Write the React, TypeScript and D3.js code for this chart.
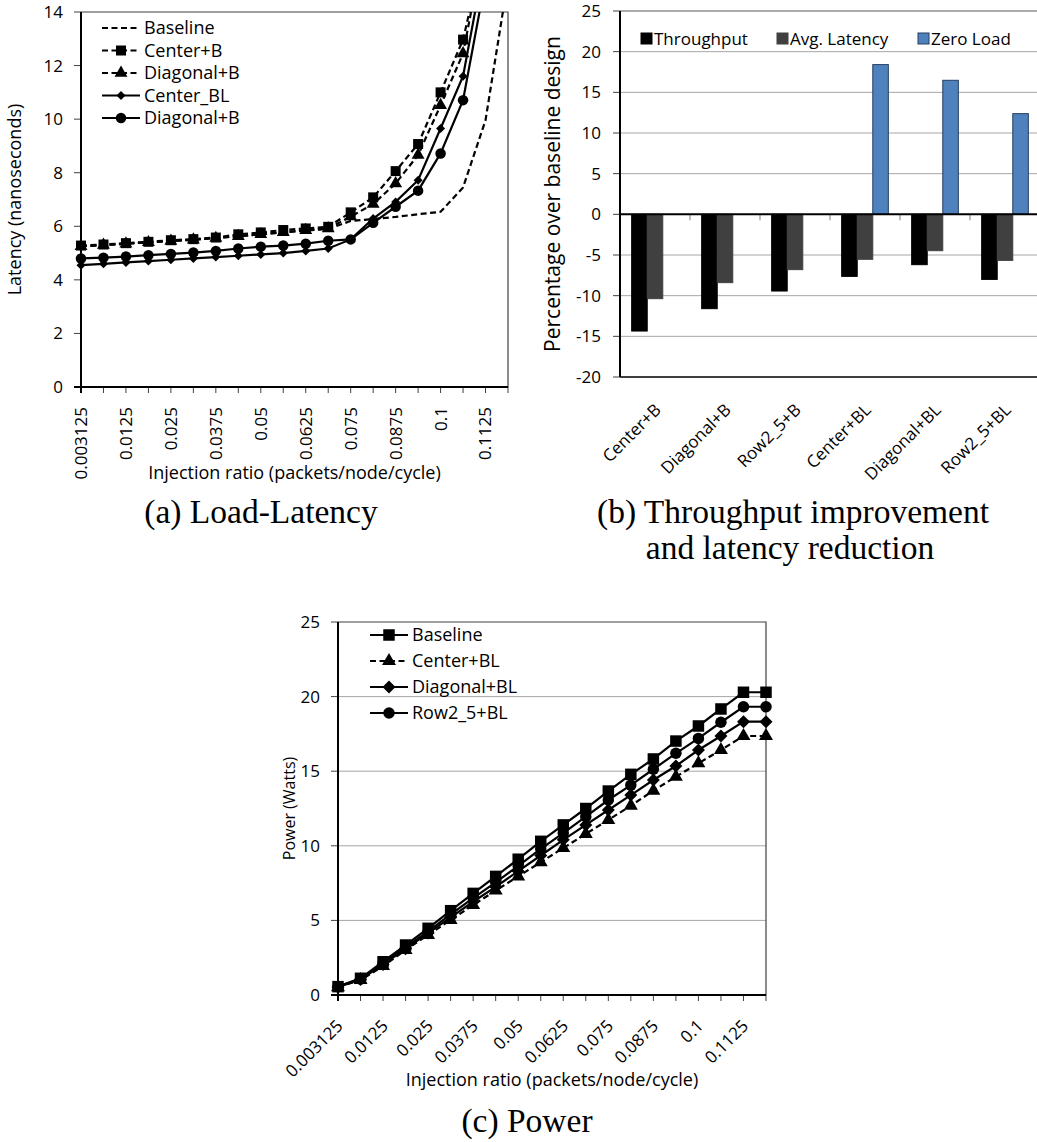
import React, { useEffect, useRef } from 'react';
import * as d3 from 'd3';

// x categories shared by the two line charts (every other one is labelled)
const injectionRatio = [
  '0.003125', '0.00625', '0.0125', '0.01875', '0.025', '0.03125', '0.0375', '0.04375', '0.05', '0.05625',
  '0.0625', '0.06875', '0.075', '0.08125', '0.0875', '0.09375', '0.1', '0.10625', '0.1125', '0.11875',
];

// (a) latency in ns
const latencyBaseline = [5.25, 5.3, 5.35, 5.4, 5.45, 5.5, 5.56, 5.63, 5.7, 5.77, 5.84, 5.9, 6.2, 6.27, 6.35, 6.45, 6.54, 7.45, 9.96, 15.2];
const latencyCenterB = [5.28, 5.32, 5.37, 5.42, 5.48, 5.52, 5.58, 5.7, 5.77, 5.86, 5.92, 5.98, 6.52, 7.08, 8.06, 9.07, 11.0, 12.97, 16.6, 21];
const latencyDiagonalB = [5.25, 5.3, 5.35, 5.4, 5.45, 5.5, 5.56, 5.63, 5.7, 5.78, 5.85, 5.92, 6.36, 6.83, 7.6, 8.66, 10.52, 12.45, 16.8, 21];
const latencyCenterBL = [4.55, 4.6, 4.65, 4.7, 4.75, 4.8, 4.85, 4.9, 4.95, 5.0, 5.08, 5.17, 5.51, 6.29, 6.91, 7.72, 9.65, 11.6, 16.1, 20];
const latencyDiagonalBL = [4.8, 4.83, 4.87, 4.92, 4.97, 5.02, 5.08, 5.17, 5.24, 5.28, 5.35, 5.46, 5.51, 6.13, 6.73, 7.33, 8.72, 10.71, 15.2, 19];
const latencyTicks = [0, 2, 4, 6, 8, 10, 12, 14];

// (b) percentage over baseline design
const designs = ['Center+B', 'Diagonal+B', 'Row2_5+B', 'Center+BL', 'Diagonal+BL', 'Row2_5+BL'];
const metrics = ['Throughput', 'Avg. Latency', 'Zero Load'];
const throughputGain = [-14.35, -11.6, -9.43, -7.63, -6.19, -8.0];
const avgLatencyGain = [-10.37, -8.4, -6.8, -5.53, -4.47, -5.66];
const zeroLoadGain = [0, 0, 0, 18.41, 16.48, 12.38];
const percentTicks = [-20, -15, -10, -5, 0, 5, 10, 15, 20, 25];

// (c) power in watts
const powerBaseline = [0.56, 1.12, 2.23, 3.35, 4.47, 5.65, 6.81, 7.95, 9.1, 10.3, 11.4, 12.5, 13.67, 14.79, 15.82, 17.02, 18.03, 19.17, 20.29, 20.29];
const powerCenterBL = [0.53, 1.0, 1.94, 3.02, 4.02, 5.03, 6.03, 7.0, 7.95, 8.9, 9.85, 10.8, 11.73, 12.69, 13.7, 14.63, 15.53, 16.42, 17.36, 17.36];
const powerDiagonalBL = [0.54, 1.04, 2.05, 3.1, 4.15, 5.2, 6.25, 7.25, 8.3, 9.35, 10.4, 11.4, 12.4, 13.4, 14.41, 15.35, 16.42, 17.36, 18.32, 18.32];
const powerRow25BL = [0.55, 1.08, 2.12, 3.2, 4.27, 5.4, 6.5, 7.55, 8.65, 9.8, 10.85, 11.95, 13.07, 14.07, 15.13, 16.2, 17.2, 18.28, 19.32, 19.32];
const powerTicks = [0, 5, 10, 15, 20, 25];

const FONT = "'Open Sans', sans-serif";
const SERIF = "'Liberation Serif', 'Times New Roman', serif";
const TICK_SIZE = 17;
const TEXT_SIZE = 18;

function markerPath(shape, size) {
  if (shape === 'square') return d3.symbol(d3.symbolSquare, size * size)();
  if (shape === 'circle') return d3.symbol(d3.symbolCircle, Math.PI * (size / 2) ** 2)();
  if (shape === 'triangle') return d3.symbol(d3.symbolTriangle, size * size * 0.5)();
  if (shape === 'diamond') {
    const h = size / 2;
    return `M0,${-h}L${h},0L0,${h}L${-h},0Z`;
  }
  return null;
}

function linePanel(svg, cfg) {
  const { id, left, right, top, bottom, yMax, yTicks, grid, series } = cfg;
  const x = d3.scalePoint().domain(injectionRatio).range([left, right]);
  const y = d3.scaleLinear().domain([0, yMax]).range([bottom, top]);
  const g = svg.append('g');

  svg.select('defs').append('clipPath').attr('id', 'clip-' + id)
    .append('rect').attr('x', left - 20).attr('y', top).attr('width', right - left + 40).attr('height', bottom - top + 20);

  if (grid) {
    g.selectAll('.grid').data(yTicks.filter((t) => t > 0 && t < yMax)).enter().append('line')
      .attr('x1', left).attr('x2', right).attr('y1', (d) => y(d)).attr('y2', (d) => y(d))
      .attr('stroke', '#a6a6a6').attr('stroke-width', 1);
  }
  // plot border top / right
  g.append('path').attr('d', `M${left},${y(yMax)}H${right}V${bottom}`)
    .attr('fill', 'none').attr('stroke', '#404040').attr('stroke-width', 1.2);

  // y axis
  g.selectAll('.ytick').data(yTicks).enter().append('line')
    .attr('x1', left - 7).attr('x2', left).attr('y1', (d) => y(d)).attr('y2', (d) => y(d))
    .attr('stroke', '#404040');
  g.selectAll('.ylab').data(yTicks).enter().append('text')
    .attr('x', left - 18).attr('y', (d) => y(d)).attr('dy', '0.35em')
    .attr('text-anchor', 'end').attr('font-family', FONT).attr('font-size', TICK_SIZE).text((d) => d);

  // x axis
  g.selectAll('.xtick').data(injectionRatio).enter().append('line')
    .attr('x1', (d) => x(d)).attr('x2', (d) => x(d)).attr('y1', bottom).attr('y2', bottom + 6)
    .attr('stroke', '#404040');
  const shown = injectionRatio.filter((d, i) => i % 2 === 0);
  g.selectAll('.xlab').data(shown).enter().append('text')
    .attr('transform', (d) => cfg.xLabelTransform(x(d), bottom))
    .attr('dy', cfg.xLabelDy).attr('text-anchor', 'end')
    .attr('font-family', FONT).attr('font-size', TICK_SIZE).text((d) => d);

  g.append('line').attr('x1', left).attr('x2', left).attr('y1', top).attr('y2', bottom + 6)
    .attr('stroke', '#000').attr('stroke-width', 2);
  g.append('line').attr('x1', left - 7).attr('x2', right).attr('y1', bottom).attr('y2', bottom)
    .attr('stroke', '#000').attr('stroke-width', 2);

  // titles
  g.append('text').attr('x', (left + right) / 2).attr('y', cfg.xTitleY).attr('text-anchor', 'middle')
    .attr('font-family', FONT).attr('font-size', TEXT_SIZE).text('Injection ratio (packets/node/cycle)');
  g.append('text').attr('transform', `translate(${cfg.yTitleX},${(top + bottom) / 2}) rotate(-90)`)
    .attr('text-anchor', 'middle').attr('font-family', FONT).attr('font-size', cfg.yTitleSize).text(cfg.yTitle);

  // series
  const plot = g.append('g').attr('clip-path', `url(#clip-${id})`);
  const line = d3.line().x((d, i) => x(injectionRatio[i])).y((d) => y(d));
  series.forEach((s) => {
    plot.append('path').datum(s.values).attr('d', line).attr('fill', 'none')
      .attr('stroke', '#000').attr('stroke-width', 2.2)
      .attr('stroke-dasharray', s.dashed ? '6,3.5' : null);
    const p = markerPath(s.shape, s.size);
    if (p) {
      plot.selectAll(null).data(s.values).enter().append('path')
        .attr('d', p).attr('transform', (d, i) => `translate(${x(injectionRatio[i])},${y(d)})`)
        .attr('fill', '#000');
    }
  });

  // legend
  const lg = g.append('g');
  series.forEach((s, i) => {
    const ly = cfg.legend.y + i * cfg.legend.step;
    lg.append('line').attr('x1', cfg.legend.x).attr('x2', cfg.legend.x + 38).attr('y1', ly).attr('y2', ly)
      .attr('stroke', '#000').attr('stroke-width', 2.2).attr('stroke-dasharray', s.dashed ? '6,3.5' : null);
    const p = markerPath(s.shape, s.size);
    if (p) lg.append('path').attr('d', p).attr('transform', `translate(${cfg.legend.x + 19},${ly})`);
    lg.append('text').attr('x', cfg.legend.x + 42).attr('y', ly).attr('dy', '0.35em')
      .attr('font-family', FONT).attr('font-size', TEXT_SIZE).text(s.name);
  });
}

function barPanel(svg) {
  const left = 620;
  const right = 1040;
  const x0 = d3.scaleBand().domain(designs).range([left, right]).paddingInner(1 / 3).paddingOuter(1 / 6);
  const x1 = d3.scaleBand().domain(metrics).range([0, x0.bandwidth()]);
  const y = d3.scaleLinear().domain([-20, 25]).range([377, 11]);
  const colors = d3.scaleOrdinal().domain(metrics).range(['#000000', '#404040', '#4f81bd']);
  const borders = d3.scaleOrdinal().domain(metrics).range(['#000000', '#404040', '#243f60']);
  const g = svg.append('g');

  g.selectAll('.grid').data(percentTicks.filter((t) => t !== 0 && t !== -20)).enter().append('line')
    .attr('x1', left).attr('x2', right).attr('y1', (d) => y(d)).attr('y2', (d) => y(d))
    .attr('stroke', (d) => (d === 25 ? '#595959' : '#a6a6a6')).attr('stroke-width', (d) => (d === 25 ? 1.2 : 1));
  g.append('line').attr('x1', left).attr('x2', right).attr('y1', y(-20)).attr('y2', y(-20))
    .attr('stroke', '#000').attr('stroke-width', 1.3);

  g.selectAll('.ytick').data(percentTicks).enter().append('line')
    .attr('x1', left - 7).attr('x2', left).attr('y1', (d) => y(d)).attr('y2', (d) => y(d)).attr('stroke', '#404040');
  g.selectAll('.ylab').data(percentTicks).enter().append('text')
    .attr('x', left - 19).attr('y', (d) => y(d)).attr('dy', '0.35em').attr('text-anchor', 'end')
    .attr('font-family', FONT).attr('font-size', TICK_SIZE).text((d) => d);

  const rows = designs.map((d, i) => ({
    design: d,
    values: [throughputGain[i], avgLatencyGain[i], zeroLoadGain[i]],
  }));
  const grp = g.selectAll('.grp').data(rows).enter().append('g')
    .attr('transform', (d) => `translate(${x0(d.design)},0)`);
  grp.selectAll('rect').data((d) => d.values.map((v, k) => ({ key: metrics[k], v }))).enter()
    .filter((d) => d.v !== 0)
    .append('rect')
    .attr('x', (d) => x1(d.key)).attr('width', x1.bandwidth())
    .attr('y', (d) => y(Math.max(0, d.v))).attr('height', (d) => Math.abs(y(d.v) - y(0)))
    .attr('fill', (d) => colors(d.key)).attr('stroke', (d) => borders(d.key)).attr('stroke-width', 1);

  // zero axis with category ticks
  const step = x0.step();
  g.selectAll('.xtick').data(d3.range(1, designs.length)).enter().append('line')
    .attr('x1', (d) => left + d * step).attr('x2', (d) => left + d * step)
    .attr('y1', y(0)).attr('y2', y(0) + 6).attr('stroke', '#7f7f7f');
  g.append('line').attr('x1', left).attr('x2', right).attr('y1', y(0)).attr('y2', y(0))
    .attr('stroke', '#000').attr('stroke-width', 2);
  g.append('line').attr('x1', left).attr('x2', left).attr('y1', y(25)).attr('y2', y(-20))
    .attr('stroke', '#000').attr('stroke-width', 2);

  g.selectAll('.xlab').data(designs).enter().append('text')
    .attr('transform', (d) => `translate(${x0(d) + x0.bandwidth() / 2 + 7},${y(-20) + 34}) rotate(-45)`)
    .attr('text-anchor', 'end').attr('font-family', FONT).attr('font-size', TICK_SIZE).text((d) => d);

  g.append('text').attr('transform', `translate(560,${(y(25) + y(-20)) / 2}) rotate(-90)`)
    .attr('text-anchor', 'middle').attr('font-family', FONT).attr('font-size', 21)
    .text('Percentage over baseline design');

  // legend
  const legendX = [641, 777, 918];
  metrics.forEach((m, i) => {
    g.append('rect').attr('x', legendX[i]).attr('y', 33).attr('width', 11).attr('height', 11)
      .attr('fill', colors(m)).attr('stroke', borders(m));
    g.append('text').attr('x', legendX[i] + 13).attr('y', 39).attr('dy', '0.35em')
      .attr('font-family', FONT).attr('font-size', 17).text(m);
  });
}

export default function App() {
  const ref = useRef(null);

  useEffect(() => {
    const svg = d3.select(ref.current);
    svg.selectAll('*').remove();
    svg.append('defs');

    linePanel(svg, {
      id: 'a', left: 81, right: 508, top: 12, bottom: 387, yMax: 14, yTicks: latencyTicks, grid: false,
      series: [
        { name: 'Baseline', values: latencyBaseline, dashed: true, shape: 'none', size: 0 },
        { name: 'Center+B', values: latencyCenterB, dashed: true, shape: 'square', size: 10 },
        { name: 'Diagonal+B', values: latencyDiagonalB, dashed: true, shape: 'triangle', size: 12 },
        { name: 'Center_BL', values: latencyCenterBL, dashed: false, shape: 'diamond', size: 9 },
        { name: 'Diagonal+B', values: latencyDiagonalBL, dashed: false, shape: 'circle', size: 10.5 },
      ],
      legend: { x: 102, y: 28, step: 22.5 },
      xLabelTransform: (px, b) => `translate(${px},${b + 20}) rotate(-90)`,
      xLabelDy: '0.35em',
      xTitleY: 479,
      yTitle: 'Latency (nanoseconds)', yTitleX: 21, yTitleSize: 18,
    });

    barPanel(svg);

    linePanel(svg, {
      id: 'c', left: 338, right: 766, top: 622, bottom: 995, yMax: 25, yTicks: powerTicks, grid: true,
      series: [
        { name: 'Baseline', values: powerBaseline, dashed: false, shape: 'square', size: 11.5 },
        { name: 'Center+BL', values: powerCenterBL, dashed: true, shape: 'triangle', size: 13 },
        { name: 'Diagonal+BL', values: powerDiagonalBL, dashed: false, shape: 'diamond', size: 13 },
        { name: 'Row2_5+BL', values: powerRow25BL, dashed: false, shape: 'circle', size: 11.5 },
      ],
      legend: { x: 370, y: 635, step: 26 },
      xLabelTransform: (px, b) => `translate(${px + 6},${b + 32}) rotate(-45)`,
      xLabelDy: '0',
      xTitleY: 1086,
      yTitle: 'Power (Watts)', yTitleX: 295, yTitleSize: 16,
    });

    const cap = svg.append('g').attr('font-family', SERIF).attr('font-size', 33.5).attr('text-anchor', 'middle');
    cap.append('text').attr('x', 261).attr('y', 523).text('(a) Load-Latency');
    cap.append('text').attr('x', 793).attr('y', 523).text('(b) Throughput improvement');
    cap.append('text').attr('x', 790).attr('y', 559).text('and latency reduction');
    cap.append('text').attr('x', 527).attr('y', 1132).text('(c) Power');
  }, []);

  return (
    <svg ref={ref} width={1037} height={1142}
      style={{ position: 'absolute', left: 0, top: 0, background: '#fff' }} />
  );
}
